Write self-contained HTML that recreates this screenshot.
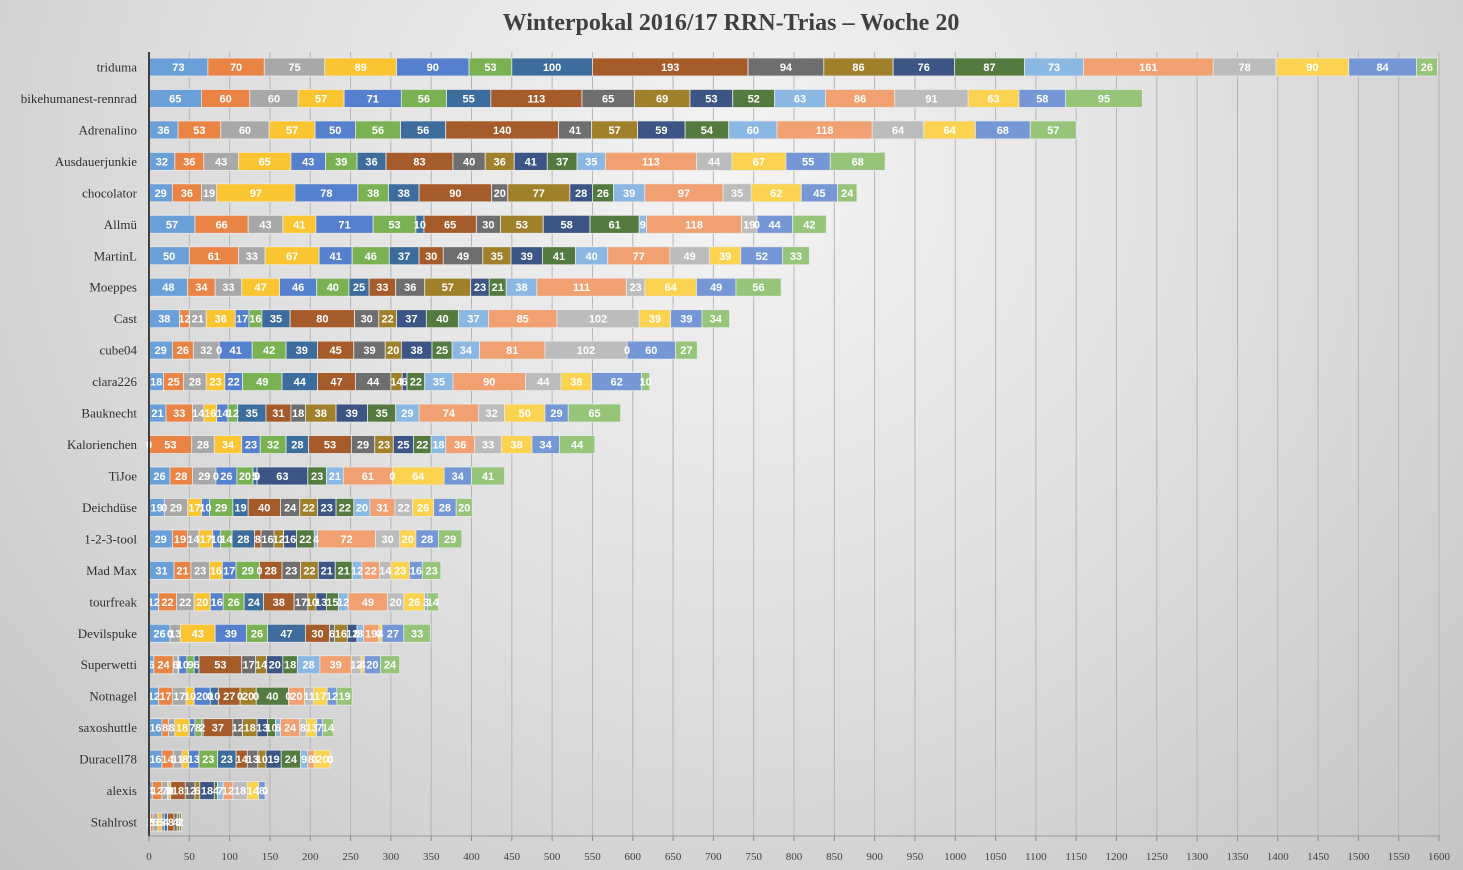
<!DOCTYPE html>
<html><head><meta charset="utf-8"><style>
html,body{margin:0;padding:0}
body{width:1463px;height:870px;overflow:hidden;background:radial-gradient(ellipse at 50% 20%,#f4f4f4 0%,#dcdcdc 55%,#c4c4c4 100%)}
svg{display:block}
</style></head><body>
<svg id="c" width="1463" height="870" xmlns="http://www.w3.org/2000/svg"></svg>
<script>
const names=["triduma","bikehumanest-rennrad","Adrenalino","Ausdauerjunkie","chocolator","Allmü","MartinL","Moeppes","Cast","cube04","clara226","Bauknecht","Kalorienchen","TiJoe","Deichdüse","1-2-3-tool","Mad Max","tourfreak","Devilspuke","Superwetti","Notnagel","saxoshuttle","Duracell78","alexis","Stahlrost"];
const data=[
[73,70,75,89,90,53,100,193,94,86,76,87,73,161,78,90,84,26],
[65,60,60,57,71,56,55,113,65,69,53,52,63,86,91,63,58,95],
[36,53,60,57,50,56,56,140,41,57,59,54,60,118,64,64,68,57],
[32,36,43,65,43,39,36,83,40,36,41,37,35,113,44,67,55,68],
[29,36,19,97,78,38,38,90,20,77,28,26,39,97,35,62,45,24],
[57,66,43,41,71,53,10,65,30,53,58,61,9,118,19,0,44,42],
[50,61,33,67,41,46,37,30,49,35,39,41,40,77,49,39,52,33],
[48,34,33,47,46,40,25,33,36,57,23,21,38,111,23,64,49,56],
[38,12,21,36,17,16,35,80,30,22,37,40,37,85,102,39,39,34],
[29,26,32,0,41,42,39,45,39,20,38,25,34,81,102,0,60,27],
[18,25,28,23,22,49,44,47,44,14,6,22,35,90,44,38,62,10],
[21,33,14,16,14,12,35,31,18,38,39,35,29,74,32,50,29,65],
[0,53,28,34,23,32,28,53,29,23,25,22,18,36,33,38,34,44],
[26,28,29,0,26,20,5,0,0,0,63,23,21,61,0,64,34,41],
[19,0,29,17,10,29,19,40,24,22,23,22,20,31,22,26,28,20],
[29,19,14,17,10,14,28,8,16,12,16,22,4,72,30,20,28,29],
[31,21,23,16,17,29,0,28,23,22,21,21,12,22,14,23,16,23],
[12,22,22,20,16,26,24,38,17,10,13,15,12,49,20,26,3,14],
[26,0,13,43,39,26,47,30,6,16,12,0,8,19,0,4,27,33],
[6,24,6,1,10,9,6,53,17,14,20,18,28,39,12,4,20,24],
[12,17,17,10,20,0,10,27,0,20,0,40,0,20,11,17,12,19],
[16,8,8,18,7,8,2,37,12,18,13,10,6,24,8,13,7,14],
[16,14,11,8,13,23,23,14,13,10,19,24,9,8,0,20,0,0],
[4,12,7,2,0,2,0,18,12,6,18,4,7,12,18,14,8,0],
[2,3,6,5,3,0,4,8,4,3,0,2,0,0,0,0,0,0]];
const col=["#6a9fd8","#ea8445","#a8a8a8","#fbc431","#5580cd","#79b153","#3c6d9c","#a55b2a","#6e6e6e","#a0802a","#3c5585","#557a3f","#8ab8e3","#f0a071","#bcbcbc","#fcd251","#7697d6","#96c479"];
const x0=149,k=1290/1600,y0=67,dy=31.46,bh=18;
let s='<text x="731" y="30" text-anchor="middle" font-family="Liberation Serif,serif" font-weight="bold" font-size="24" fill="#404040">Winterpokal 2016/17 RRN-Trias – Woche 20</text>';
for(let v=0;v<=1600;v+=50){const x=x0+v*k;
 if(v>0)s+=`<line x1="${x}" y1="52" x2="${x}" y2="836" stroke="#b4b4b4" stroke-width="1"/>`;
 s+=`<line x1="${x}" y1="836" x2="${x}" y2="841" stroke="#888"/>`;
 s+=`<text x="${x}" y="860" text-anchor="middle" font-family="Liberation Serif,serif" font-size="11" fill="#404040">${v}</text>`;}
s+=`<line x1="${x0}" y1="836" x2="1440" y2="836" stroke="#999"/>`;
data.forEach((r,i)=>{const yc=y0+i*dy;let c=0;
 s+=`<text x="137" y="${yc+4.5}" text-anchor="end" font-family="Liberation Serif,serif" font-size="13" fill="#303030">${names[i]}</text>`;
 r.forEach((v,j)=>{const x=x0+c*k,w=v*k;
  if(v>0)s+=`<rect x="${x}" y="${yc-bh/2}" width="${w}" height="${bh}" fill="${col[j]}" stroke="#e8e8e8" stroke-width="0.8"/>`;
  c+=v;});
 c=0;
 r.forEach((v,j)=>{const x=x0+(c+v/2)*k;c+=v;
  if(i<24||v>0)s+=`<text x="${x}" y="${yc+4}" text-anchor="middle" font-family="Liberation Sans,sans-serif" font-weight="bold" font-size="11" fill="#fff">${v}</text>`;});
});
s+=`<line x1="${x0}" y1="52" x2="${x0}" y2="836" stroke="#404040" stroke-width="2"/>`;
document.getElementById('c').innerHTML=s;
</script>
</body></html>
